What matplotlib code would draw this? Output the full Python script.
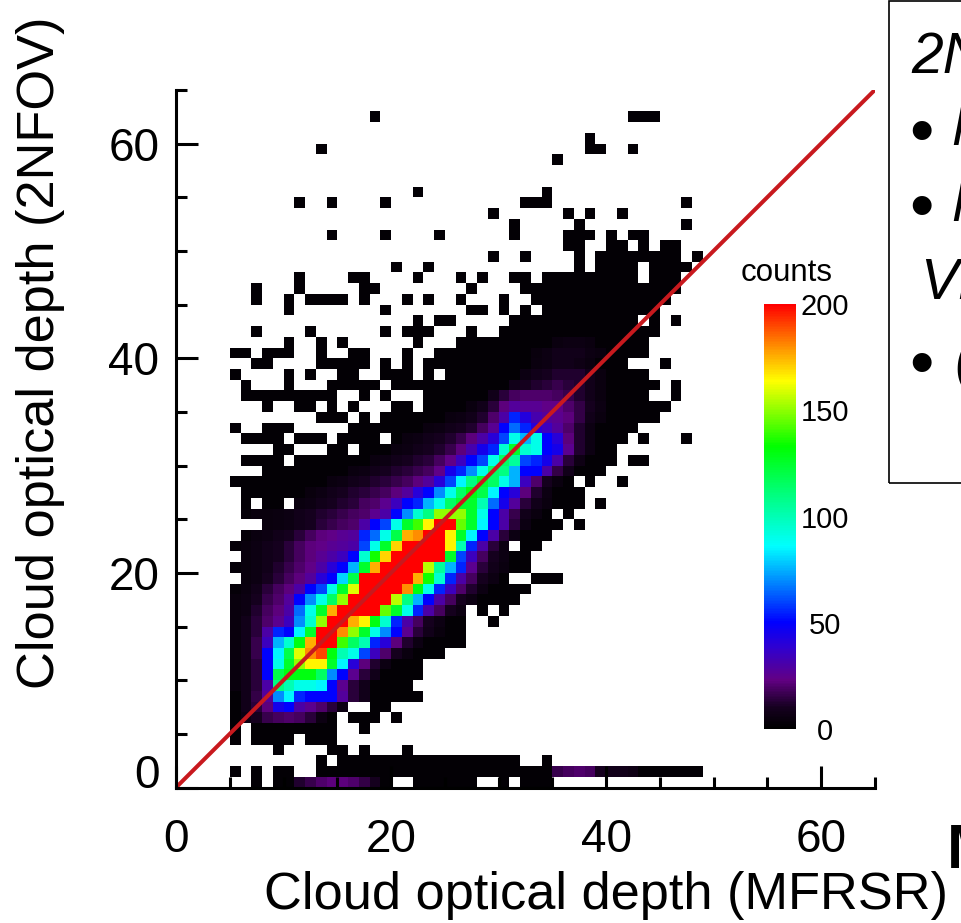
import numpy as np
from matplotlib import pyplot as plt
from matplotlib.colors import LinearSegmentedColormap
from matplotlib.patches import Rectangle
from matplotlib.transforms import ScaledTranslation

plt.rcParams['font.family'] = ['Liberation Sans', 'DejaVu Sans']

# bins with any counts at all, per row of the 2NFOV axis: (first MFRSR bin, last MFRSR bin)
occupied = {
    62: [(18, 18), (42, 44)],
    60: [(38, 38)],
    59: [(13, 13), (38, 39), (42, 42)],
    58: [(35, 35)],
    55: [(22, 22), (34, 34)],
    54: [(11, 11), (14, 14), (19, 19), (32, 34), (47, 47)],
    53: [(29, 29), (36, 36), (38, 38), (41, 41)],
    52: [(31, 31), (37, 37), (47, 47)],
    51: [(14, 14), (19, 19), (24, 24), (31, 31), (36, 38), (40, 40), (42, 43)],
    50: [(36, 37), (40, 41), (43, 43), (45, 46)],
    49: [(29, 29), (32, 32), (37, 37), (39, 46), (48, 48)],
    48: [(20, 20), (23, 23), (37, 37), (39, 42), (44, 47)],
    47: [(11, 11), (16, 17), (22, 22), (26, 26), (28, 28), (31, 32), (34, 42), (44, 46)],
    46: [(7, 7), (11, 11), (17, 18), (27, 27), (32, 46)],
    45: [(7, 7), (10, 10), (12, 15), (17, 17), (21, 21), (23, 23), (26, 26), (30, 30), (33, 45)],
    44: [(10, 10), (19, 19), (27, 28), (30, 30), (32, 32), (34, 44)],
    43: [(22, 22), (24, 25), (31, 42), (44, 44), (46, 46)],
    42: [(7, 7), (12, 12), (19, 19), (21, 23), (27, 27), (30, 44)],
    41: [(10, 10), (13, 13), (15, 15), (22, 22), (26, 43)],
    40: [(5, 6), (8, 10), (13, 13), (16, 17), (21, 21), (24, 43)],
    39: [(7, 8), (13, 17), (19, 19), (21, 21), (23, 41), (45, 45)],
    38: [(5, 5), (10, 10), (12, 12), (15, 16), (19, 21), (23, 23), (25, 43)],
    37: [(6, 6), (10, 10), (14, 18), (20, 44), (46, 46)],
    36: [(6, 14), (17, 17), (19, 19), (23, 43), (46, 46)],
    35: [(8, 8), (11, 12), (14, 14), (16, 16), (20, 21), (23, 45)],
    34: [(13, 15), (17, 17), (19, 44)],
    33: [(5, 5), (8, 10), (16, 42)],
    32: [(6, 9), (11, 13), (15, 18), (20, 41), (43, 43), (47, 47)],
    31: [(9, 10), (14, 15), (17, 40)],
    30: [(6, 9), (11, 40), (42, 43)],
    29: [(8, 39)],
    28: [(5, 36), (38, 38), (41, 41)],
    27: [(6, 37)],
    26: [(6, 6), (8, 9), (11, 37), (39, 39)],
    25: [(6, 34), (36, 36)],
    24: [(8, 35), (37, 37)],
    23: [(6, 34)],
    22: [(5, 30), (32, 33)],
    21: [(6, 32)],
    20: [(5, 32)],
    19: [(6, 30), (33, 35)],
    18: [(5, 32)],
    17: [(5, 31)],
    16: [(5, 26), (28, 28), (30, 30)],
    15: [(5, 26), (29, 29)],
    14: [(5, 26)],
    13: [(5, 26)],
    12: [(5, 24)],
    11: [(5, 22)],
    10: [(5, 22)],
    9: [(5, 21)],
    8: [(5, 22)],
    7: [(5, 15), (18, 19)],
    6: [(5, 14), (16, 18), (20, 20)],
    5: [(5, 5), (7, 14), (17, 17)],
    4: [(5, 5), (7, 10), (12, 14)],
    3: [(9, 9), (14, 15), (17, 17), (21, 21)],
    2: [(13, 13), (15, 31), (34, 34)],
    1: [(5, 5), (7, 7), (9, 10), (13, 48)],
    0: [(7, 7), (9, 19), (22, 27), (30, 30), (32, 34)],
}

sparse_count = 2

core = {
    41: (35, [5, 6, 6, 5]),
    40: (33, [4, 6, 8, 8, 8, 6, 5]),
    39: (33, [5, 6, 8, 8, 7, 5]),
    38: (32, [6, 8, 10, 12, 12, 12, 8, 5]),
    37: (31, [8, 10, 12, 14, 16, 14, 12, 8, 5]),
    36: (29, [8, 14, 18, 20, 20, 20, 18, 16, 12, 8, 5]),
    35: (27, [5, 8, 14, 22, 28, 26, 26, 24, 24, 20, 15, 10, 6]),
    34: (25, [5, 6, 8, 12, 20, 30, 55, 42, 32, 28, 25, 22, 15, 8, 5]),
    33: (23, [5, 6, 8, 10, 12, 18, 26, 50, 65, 55, 40, 35, 28, 20, 12, 6]),
    32: (21, [5, 6, 8, 10, 12, 16, 22, 30, 40, 60, 90, 75, 90, 50, 40, 22, 12, 6]),
    31: (20, [5, 6, 8, 10, 12, 16, 22, 32, 45, 55, 95, 125, 95, 90, 50, 45, 25, 12, 6]),
    30: (18, [5, 6, 8, 10, 12, 14, 18, 24, 35, 50, 60, 90, 115, 105, 60, 55, 45, 30, 14, 7]),
    29: (16, [5, 6, 8, 10, 12, 14, 16, 18, 24, 45, 55, 70, 90, 115, 110, 75, 50, 50, 30, 15, 8]),
    28: (14, [5, 6, 8, 10, 12, 14, 16, 18, 22, 28, 40, 60, 85, 110, 125, 115, 90, 75, 35, 20, 10, 5]),
    27: (12, [4, 6, 8, 10, 12, 14, 16, 18, 22, 28, 40, 50, 70, 90, 115, 130, 120, 85, 50, 40, 22, 12, 6]),
    26: (11, [5, 6, 8, 10, 12, 14, 18, 20, 25, 35, 50, 55, 75, 90, 115, 125, 125, 100, 65, 45, 28, 14, 8, 5]),
    25: (6, [3, 4, 4, 5, 6, 8, 10, 12, 14, 16, 18, 20, 25, 30, 50, 70, 95, 110, 150, 150, 150, 125, 90, 50, 30, 16, 8, 5]),
    24: (8, [4, 5, 6, 8, 10, 14, 16, 18, 20, 30, 50, 60, 90, 125, 140, 165, 200, 200, 145, 125, 85, 50, 30, 14, 6]),
    23: (6, [3, 5, 6, 8, 10, 14, 18, 22, 24, 26, 28, 55, 65, 90, 120, 175, 180, 200, 200, 165, 125, 85, 50, 30, 14, 6]),
    22: (5, [3, 4, 6, 8, 10, 14, 18, 22, 24, 26, 28, 30, 60, 90, 125, 170, 200, 200, 200, 200, 165, 100, 55, 30, 14, 6]),
    21: (6, [4, 6, 8, 10, 14, 18, 22, 26, 30, 35, 50, 95, 135, 170, 200, 200, 200, 200, 200, 125, 60, 35, 18, 10, 6]),
    20: (5, [3, 4, 6, 8, 12, 16, 20, 24, 30, 40, 50, 75, 125, 175, 200, 200, 200, 200, 155, 105, 75, 55, 25, 14, 8, 5]),
    19: (6, [4, 6, 10, 14, 18, 22, 28, 40, 50, 80, 120, 200, 200, 200, 200, 200, 175, 135, 95, 55, 30, 18, 10, 6]),
    18: (5, [3, 5, 8, 14, 18, 22, 30, 50, 60, 90, 125, 160, 200, 200, 200, 200, 180, 130, 90, 55, 35, 20, 12, 6]),
    17: (5, [4, 6, 10, 16, 20, 28, 50, 70, 90, 115, 150, 200, 200, 200, 200, 155, 110, 75, 50, 30, 18, 10, 6]),
    16: (5, [4, 6, 12, 18, 22, 30, 65, 90, 125, 175, 200, 200, 200, 200, 145, 125, 90, 55, 30, 18, 10, 6]),
    15: (5, [4, 8, 14, 20, 25, 35, 70, 95, 150, 200, 200, 175, 165, 130, 95, 55, 30, 18, 10, 6]),
    14: (5, [4, 8, 14, 30, 55, 50, 85, 125, 200, 200, 180, 150, 125, 90, 70, 50, 25, 14, 8, 4]),
    13: (5, [4, 8, 16, 35, 75, 95, 130, 175, 200, 200, 140, 115, 100, 55, 40, 22, 12, 6]),
    12: (5, [4, 8, 16, 50, 85, 120, 160, 180, 190, 130, 100, 90, 60, 35, 20, 10, 5]),
    11: (5, [4, 8, 14, 50, 90, 125, 150, 165, 165, 125, 85, 40, 22, 12, 6]),
    10: (5, [4, 8, 14, 50, 120, 130, 130, 130, 115, 70, 50, 25, 14, 8]),
    9: (5, [4, 8, 14, 30, 110, 100, 90, 90, 85, 50, 25, 14, 8]),
    8: (6, [8, 15, 28, 70, 85, 55, 50, 50, 50, 28, 14, 8]),
    7: (6, [8, 14, 22, 45, 50, 30, 25, 20, 14, 6]),
    6: (6, [6, 10, 16, 18, 20, 18, 14, 6]),
    1: (35, [16, 18, 20, 18, 10, 8, 8, 7]),
    0: (11, [12, 16, 20, 22, 22, 20, 15, 10]),
}

major_ticks = [0, 20, 40, 60]
minor_ticks = [5, 10, 15, 25, 30, 35, 45, 50, 55, 65]
cbar_ticks = [0, 50, 100, 150, 200]

counts = np.full((65, 65), np.nan)
for y, spans in occupied.items():
    for first, last in spans:
        counts[y, first:last + 1] = sparse_count
for y, (first, vals) in core.items():
    for i, v in enumerate(vals):
        counts[y, first + i] = v

rainbow = LinearSegmentedColormap.from_list('counts', [
    (0.0, '#000000'), (0.05, '#160020'), (0.115, '#620084'), (0.19, '#3000d0'),
    (0.25, '#0000ff'), (0.43, '#00ffff'), (0.55, '#00ff80'), (0.665, '#00ff00'),
    (0.82, '#ffff00'), (0.90, '#ff9000'), (1.0, '#ff0000')])

fig = plt.figure(figsize=(9.61, 9.23), dpi=100)
ax = fig.add_axes([176 / 961, (923 - 787.5) / 923, 698.75 / 961, 697.5 / 923])

mesh = ax.pcolormesh(np.arange(66), np.arange(66), np.ma.masked_invalid(counts),
                     cmap=rainbow, vmin=0, vmax=200)
ax.plot([0, 65], [0, 65], color='#c8191e', lw=2.9, solid_capstyle='butt')

ax.set_xlim(0, 65)
ax.set_ylim(0, 65)
ax.spines['top'].set_visible(False)
ax.spines['right'].set_visible(False)
ax.spines['left'].set_linewidth(2.2)
ax.spines['bottom'].set_linewidth(2.2)
ax.set_xticks(major_ticks)
ax.set_yticks(major_ticks)
ax.set_xticks(minor_ticks, minor=True)
ax.set_yticks(minor_ticks, minor=True)
ax.tick_params(which='major', direction='in', length=16, width=2.2, labelsize=33)
ax.tick_params(which='minor', direction='in', length=8, width=2.2)
ax.tick_params(axis='x', which='major', pad=22)
ax.tick_params(axis='y', which='major', pad=12)
# the zero on the y axis sits a little above its tick
zero = ax.get_yticklabels()[0]
zero.set_transform(zero.get_transform() + ScaledTranslation(0, 16 / 100, fig.dpi_scale_trans))

fig.text(606 / 961, 1 - 896 / 923, 'Cloud optical depth (MFRSR)', fontsize=37.7,
         ha='center', va='center')
fig.text(41 / 961, 1 - 353 / 923, 'Cloud optical depth (2NFOV)', fontsize=37.7,
         rotation=90, ha='center', va='center')

cax = fig.add_axes([764 / 961, (923 - 729) / 923, 32 / 961, 425 / 923])
cbar = fig.colorbar(mesh, cax=cax, ticks=cbar_ticks)
cbar.outline.set_visible(False)
cbar.ax.tick_params(length=0, labelsize=21, pad=21)
for label in cbar.ax.get_yticklabels():
    label.set_ha('center')
fig.text(787 / 961, 1 - 273 / 923, 'counts', fontsize=22.5, ha='center', va='center')

# text box running off the right edge
fig.add_artist(Rectangle((889 / 961, 1 - 483 / 923), 100 / 961, 482 / 923, fill=False,
                         edgecolor='black', lw=1.2, transform=fig.transFigure))
for txt, px, py in [('2NFOV', 911, 58), ('MFRSR', 951, 131), ('MFRSR', 951, 206),
                    ('VM', 920, 284), ('(', 954, 362)]:
    fig.text(px / 961, 1 - py / 923, txt, fontsize=41, style='italic', ha='left', va='center')
for py in [135, 210, 367]:
    fig.text(921 / 961, 1 - py / 923, '\u2022', fontsize=50, ha='center', va='center')

fig.text(947 / 961, 1 - 852 / 923, 'M', fontsize=45, weight='bold', ha='left', va='center')

fig.savefig('out.png', dpi=100)
